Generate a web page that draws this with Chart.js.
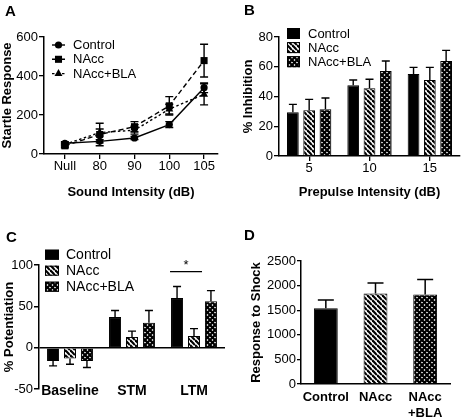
<!DOCTYPE html>
<html><head><meta charset="utf-8">
<script src="https://cdn.jsdelivr.net/npm/chart.js"></script>
<style>
html,body{margin:0;padding:0;background:#fff;}
#wrap{position:relative;width:463px;height:420px;overflow:hidden;background:#fff;}
canvas{position:absolute;}
.lbl{position:absolute;font:bold 15px "Liberation Sans",Arial,sans-serif;color:#000;line-height:15px;}
</style></head><body>
<div id="wrap">
<canvas id="cA" width="232" height="210" style="left:0;top:0"></canvas>
<canvas id="cB" width="231" height="210" style="left:232px;top:0"></canvas>
<canvas id="cC" width="232" height="210" style="left:0;top:210px"></canvas>
<canvas id="cD" width="231" height="210" style="left:232px;top:210px"></canvas>
<div class="lbl" style="left:5px;top:3px">A</div>
<div class="lbl" style="left:244px;top:2px">B</div>
<div class="lbl" style="left:6px;top:229px">C</div>
<div class="lbl" style="left:244px;top:227px">D</div>
</div>
<script>
// ---------- DATA ----------
const groupNames = ['Control', 'NAcc', 'NAcc+BLA'];

// Panel A: startle response vs sound intensity
const soundLabels = ['Null', '80', '90', '100', '105'];
const startleControl = [55, 65, 82, 151, 340];
const startleControlErr = [8, 8, 8, 15, 25];
const startleNAcc = [42, 100, 140, 247, 479];
const startleNAccErr = [10, 58, 26, 47, 84];
const startleBLA = [49, 110, 122, 230, 306];
const startleBLAErr = [8, 18, 20, 25, 54];

// Panel B: % inhibition vs prepulse intensity
const prepulseLabels = ['5', '10', '15'];
const inhibControl = [29.4, 47.5, 55.1];
const inhibControlErr = [5.3, 3.6, 4.5];
const inhibNAcc = [30.7, 45.5, 51.1];
const inhibNAccErr = [7.4, 6.1, 8.5];
const inhibBLA = [31.4, 57.1, 63.9];
const inhibBLAErr = [7.6, 6.8, 7.1];

// Panel C: % potentiation
const potLabels = ['Baseline', 'STM', 'LTM'];
const potControl = [-16, 37, 60];
const potControlErr = [6, 8, 14];
const potNAcc = [-13, 13, 14];
const potNAccErr = [7, 7, 9];
const potBLA = [-16, 30, 56];
const potBLAErr = [8, 15, 13];
const sigCategory = 'LTM';
const sigValue = 92;
const sigMark = '*';

// Panel D: response to shock
const shockLabels = ['Control', 'NAcc', ['NAcc', '+BLA']];
const shockValues = [1540, 1840, 1820];
const shockErr = [165, 215, 305];

// ---------- STYLE ----------
const FONT = '"Liberation Sans", Arial, Helvetica, sans-serif';
Chart.defaults.font.family = FONT;
Chart.defaults.font.size = 13;
Chart.defaults.color = '#000';
Chart.defaults.animation = false;
Chart.defaults.plugins.legend.display = false;
Chart.defaults.plugins.tooltip.enabled = false;

function makeStripes() {
  const s = 5, c = document.createElement('canvas');
  c.width = s; c.height = s;
  const g = c.getContext('2d');
  g.fillStyle = '#fff'; g.fillRect(0, 0, s, s);
  g.strokeStyle = '#000'; g.lineWidth = 2.2;
  for (let k = -1; k <= 1; k++) { g.beginPath(); g.moveTo(0, k * s); g.lineTo(s, s + k * s); g.stroke(); }
  return g.createPattern(c, 'repeat');
}
function makeCross() {
  const s = 5, c = document.createElement('canvas');
  c.width = s; c.height = s;
  const g = c.getContext('2d');
  g.fillStyle = '#fff'; g.fillRect(0, 0, s, s);
  g.strokeStyle = '#000'; g.lineWidth = 2.1;
  for (let k = -1; k <= 1; k++) {
    g.beginPath(); g.moveTo(0, k * s); g.lineTo(s, s + k * s); g.stroke();
    g.beginPath(); g.moveTo(0, s + k * s); g.lineTo(s, k * s); g.stroke();
  }
  return g.createPattern(c, 'repeat');
}
const FILLS = ['#000', makeStripes(), makeCross()];

// error bars plugin
const errorBars = {
  id: 'errorBars',
  afterDatasetsDraw(chart, args, opts) {
    const ctx = chart.ctx, ys = chart.scales.y;
    ctx.save();
    ctx.strokeStyle = '#000';
    ctx.lineWidth = opts.lineWidth || 1.5;
    chart.data.datasets.forEach((ds, i) => {
      if (!ds.errors) return;
      const meta = chart.getDatasetMeta(i);
      meta.data.forEach((el, j) => {
        const raw = ds.data[j];
        const v = (typeof raw === 'object') ? raw.y : raw;
        const e = ds.errors[j];
        const x = el.x, cw = (opts.cap || 8) / 2;
        let ends;
        if (opts.both) ends = [v - e, v + e];
        else ends = [v + (v >= 0 ? e : -e)];
        ends.forEach(t => {
          const py0 = ys.getPixelForValue(v), py1 = ys.getPixelForValue(t);
          ctx.beginPath();
          ctx.moveTo(x, py0); ctx.lineTo(x, py1);
          ctx.moveTo(x - cw, py1); ctx.lineTo(x + cw, py1);
          ctx.stroke();
        });
      });
    });
    ctx.restore();
  }
};

// custom legends
const boxLegend = {
  id: 'boxLegend',
  afterDraw(chart, args, o) {
    if (!o || !o.show) return;
    const ctx = chart.ctx;
    ctx.save();
    ctx.font = o.fontSize + 'px ' + FONT;
    ctx.textBaseline = 'middle';
    chart.data.datasets.forEach((ds, i) => {
      const y = o.y + i * o.gap;
      ctx.fillStyle = ds.backgroundColor;
      ctx.fillRect(o.x, y - o.h / 2, o.w, o.h);
      ctx.strokeStyle = '#000'; ctx.lineWidth = 1;
      ctx.strokeRect(o.x + 0.5, y - o.h / 2 + 0.5, o.w - 1, o.h - 1);
      ctx.fillStyle = '#000';
      ctx.fillText(ds.label, o.textX, y + 0.5);
    });
    ctx.restore();
  }
};
function drawMarker(ctx, style, x, y, r) {
  ctx.beginPath();
  if (style === 'circle') ctx.arc(x, y, r, 0, Math.PI * 2);
  else if (style === 'rect') { const s = r * Math.SQRT1_2; ctx.rect(x - s, y - s, 2 * s, 2 * s); }
  else if (style === 'triangle') {
    ctx.moveTo(x, y - r); ctx.lineTo(x + r * 0.866, y + r * 0.5); ctx.lineTo(x - r * 0.866, y + r * 0.5); ctx.closePath();
  }
  ctx.fill();
}
const lineLegend = {
  id: 'lineLegend',
  afterDraw(chart, args, o) {
    if (!o || !o.show) return;
    const ctx = chart.ctx;
    ctx.save();
    ctx.font = o.fontSize + 'px ' + FONT;
    ctx.textBaseline = 'middle';
    chart.data.datasets.forEach((ds, i) => {
      const y = o.y + i * o.gap;
      ctx.strokeStyle = '#000'; ctx.lineWidth = ds.borderWidth;
      ctx.setLineDash(ds.borderDash || []);
      ctx.beginPath(); ctx.moveTo(o.x0, y); ctx.lineTo(o.x1, y); ctx.stroke();
      ctx.setLineDash([]);
      ctx.fillStyle = '#000';
      drawMarker(ctx, ds.pointStyle, (o.x0 + o.x1) / 2, y, ds.pointRadius);
      ctx.fillText(ds.label, o.textX, y + 0.5);
    });
    ctx.restore();
  }
};
const sigPlugin = {
  id: 'sig',
  afterDatasetsDraw(chart, args, o) {
    if (!o || !o.show) return;
    const idx = chart.data.labels.indexOf(o.category);
    const a = chart.getDatasetMeta(0).data[idx], b = chart.getDatasetMeta(1).data[idx];
    const y = chart.scales.y.getPixelForValue(o.value);
    const x0 = a.x - a.width / 2 - 1, x1 = b.x + b.width / 2 + 2;
    const ctx = chart.ctx;
    ctx.save();
    ctx.strokeStyle = '#000'; ctx.lineWidth = 1.2;
    ctx.beginPath(); ctx.moveTo(x0, y); ctx.lineTo(x1, y); ctx.stroke();
    ctx.fillStyle = '#000'; ctx.font = '13px ' + FONT;
    ctx.textAlign = 'center'; ctx.textBaseline = 'middle';
    ctx.fillText(o.mark, (x0 + x1) / 2, y - 6);
    ctx.restore();
  }
};
// category labels drawn at the bottom edge of the plot (panel C)
const bottomLabels = {
  id: 'bottomLabels',
  afterDraw(chart, args, o) {
    if (!o || !o.show) return;
    const ctx = chart.ctx, xs = chart.scales.x;
    ctx.save();
    ctx.font = 'bold ' + o.fontSize + 'px ' + FONT;
    ctx.fillStyle = '#000';
    ctx.textAlign = 'center'; ctx.textBaseline = 'middle';
    chart.data.labels.forEach((lab, i) => {
      ctx.fillText(lab, xs.getPixelForValue(i), chart.chartArea.bottom + o.dy);
    });
    ctx.restore();
  }
};

function yAxis(min, max, step, title, width, titlePad, tickLen) {
  return {
    min: min, max: max,
    ticks: { stepSize: step, padding: 1, font: { size: 13 }, callback: v => String(v) },
    grid: { display: true, drawOnChartArea: false, tickLength: tickLen, color: '#000', tickColor: '#000', lineWidth: 1.3 },
    border: { display: true, color: '#000', width: 1.5 },
    title: { display: true, text: title, font: { size: 13, weight: 'bold' }, padding: { top: titlePad, bottom: 0 } },
    afterFit: s => { s.width = width; }
  };
}

// ---------- PANEL A ----------
const lineDs = (label, vals, errs, dash, style, r) => ({
  label: label,
  data: vals.map((v, i) => ({ x: i, y: v })),
  errors: errs,
  borderColor: '#000', backgroundColor: '#000',
  borderWidth: 1.4, borderDash: dash,
  pointStyle: style, pointRadius: r,
  pointBackgroundColor: '#000', pointBorderColor: '#000', pointBorderWidth: 0,
  tension: 0, fill: false, showLine: true
});
new Chart(document.getElementById('cA'), {
  type: 'line',
  data: {
    datasets: [
      lineDs(groupNames[0], startleControl, startleControlErr, [], 'circle', 3.6),
      lineDs(groupNames[1], startleNAcc, startleNAccErr, [5, 3], 'rect', 5),
      lineDs(groupNames[2], startleBLA, startleBLAErr, [2.5, 2.5], 'triangle', 4.6)
    ]
  },
  options: {
    responsive: false,
    layout: { padding: { top: 37, right: 14, left: 0, bottom: 0 } },
    scales: {
      x: {
        type: 'linear', min: -0.6, max: 4.4,
        afterBuildTicks: s => { s.ticks = soundLabels.map((_, i) => ({ value: i })); },
        ticks: { callback: v => soundLabels[v], padding: 0, font: { size: 13 }, maxRotation: 0, minRotation: 0, autoSkip: false },
        grid: { display: true, drawOnChartArea: false, tickLength: 5, color: '#000', tickColor: '#000', lineWidth: 1.3 },
        border: { display: true, color: '#000', width: 1.5 },
        title: { display: true, text: 'Sound Intensity (dB)', font: { size: 13, weight: 'bold' }, padding: { top: 0, bottom: 10 } },
        afterFit: s => { s.height = 56; }
      },
      y: yAxis(0, 600, 200, 'Startle Response', 44, 0, 5)
    },
    plugins: {
      errorBars: { both: true, cap: 8, lineWidth: 1.4 },
      lineLegend: { show: true, x0: 52, x1: 65, y: 45, gap: 14.3, textX: 73, fontSize: 13 }
    }
  },
  plugins: [errorBars, lineLegend]
});

// ---------- PANEL B ----------
const barDs = (i, vals, errs) => ({
  label: groupNames[i], data: vals, errors: errs,
  backgroundColor: FILLS[i], borderColor: '#000', borderWidth: 1
});
new Chart(document.getElementById('cB'), {
  type: 'bar',
  data: {
    labels: prepulseLabels,
    datasets: [barDs(0, inhibControl, inhibControlErr), barDs(1, inhibNAcc, inhibNAccErr), barDs(2, inhibBLA, inhibBLAErr)]
  },
  options: {
    responsive: false,
    categoryPercentage: 0.81, barPercentage: 0.72,
    layout: { padding: { top: 37, right: 3, left: 0, bottom: 0 } },
    scales: {
      x: {
        offset: true,
        ticks: { padding: 0, font: { size: 13 }, maxRotation: 0, minRotation: 0, autoSkip: false },
        grid: { display: true, drawOnChartArea: false, offset: false, tickLength: 5, color: '#000', tickColor: '#000', lineWidth: 1.3 },
        border: { display: true, color: '#000', width: 1.5 },
        title: { display: true, text: 'Prepulse Intensity (dB)', font: { size: 13, weight: 'bold' }, padding: { top: 0, bottom: 10 } },
        afterFit: s => { s.height = 54; }
      },
      y: yAxis(0, 80, 20, '% Inhibition', 47, 9, 5)
    },
    plugins: {
      errorBars: { both: false, cap: 8, lineWidth: 1.4 },
      boxLegend: { show: true, x: 55, y: 33.5, gap: 14.1, w: 13, h: 11, textX: 76, fontSize: 13 }
    }
  },
  plugins: [errorBars, boxLegend]
});

// ---------- PANEL C ----------
new Chart(document.getElementById('cC'), {
  type: 'bar',
  data: {
    labels: potLabels,
    datasets: [barDs(0, potControl, potControlErr), barDs(1, potNAcc, potNAccErr), barDs(2, potBLA, potBLAErr)]
  },
  options: {
    responsive: false,
    categoryPercentage: 0.82, barPercentage: 0.71,
    layout: { padding: { top: 55, right: 7, left: 0, bottom: 0 } },
    scales: {
      x: {
        offset: true,
        ticks: { display: false },
        grid: { display: false, drawTicks: false },
        border: { display: false },
        afterFit: s => { s.height = 31; }
      },
      y: Object.assign(yAxis(-50, 100, 50, '% Potentiation', 39, 2, 5), {
        grid: {
          display: true, drawOnChartArea: true, tickLength: 5,
          color: c => (c.tick && c.tick.value === 0) ? '#000' : 'rgba(0,0,0,0)',
          tickColor: '#000', lineWidth: 1.5
        }
      })
    },
    plugins: {
      errorBars: { both: false, cap: 8, lineWidth: 1.4 },
      boxLegend: { show: true, x: 45, y: 44.7, gap: 16, w: 14, h: 10, textX: 66, fontSize: 14 },
      sig: { show: true, category: sigCategory, value: sigValue, mark: sigMark },
      bottomLabels: { show: true, fontSize: 14, dy: 2 }
    }
  },
  plugins: [errorBars, boxLegend, sigPlugin, bottomLabels]
});

// ---------- PANEL D ----------
new Chart(document.getElementById('cD'), {
  type: 'bar',
  data: {
    labels: shockLabels,
    datasets: [{
      label: 'Response to Shock', data: shockValues, errors: shockErr,
      backgroundColor: FILLS, borderColor: '#000', borderWidth: 1
    }]
  },
  options: {
    responsive: false,
    categoryPercentage: 1, barPercentage: 0.48,
    layout: { padding: { top: 51, right: 13, left: 0, bottom: 0 } },
    scales: {
      x: {
        offset: true,
        ticks: { padding: 6, font: { size: 13, weight: 'bold' }, maxRotation: 0, minRotation: 0, autoSkip: false },
        grid: { display: false, drawTicks: false },
        border: { display: true, color: '#000', width: 1.5 },
        afterFit: s => { s.height = 36; }
      },
      y: yAxis(0, 2500, 500, 'Response to Shock', 69, 17, 4)
    },
    plugins: {
      errorBars: { both: false, cap: 16, lineWidth: 1.5 }
    }
  },
  plugins: [errorBars]
});
</script>
</body></html>
